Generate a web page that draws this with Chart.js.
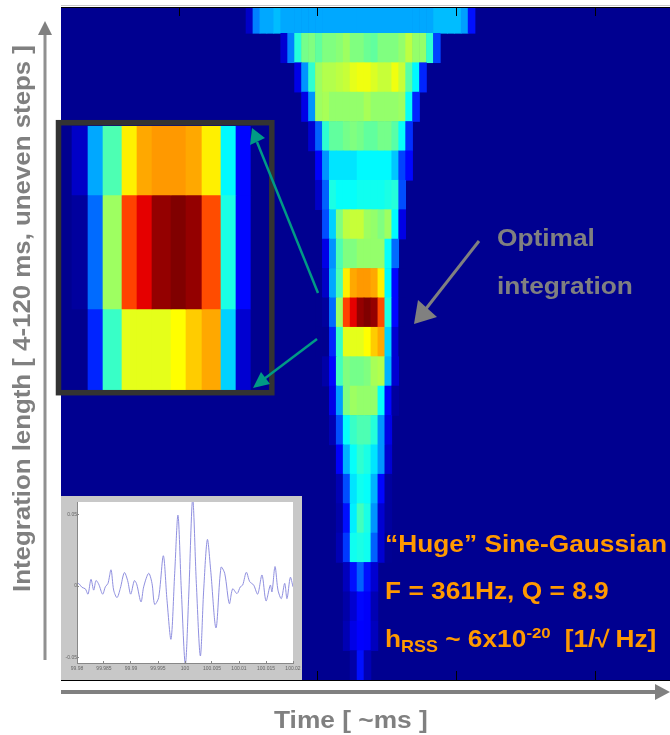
<!DOCTYPE html>
<html><head><meta charset="utf-8">
<script src="https://cdn.jsdelivr.net/npm/chart.js@4"></script>
<style>
html,body{margin:0;padding:0;background:#fff;width:670px;height:735px;overflow:hidden}
canvas{position:absolute;display:block}
#main{left:0;top:0;filter:blur(.3px)}
#thumb{left:61px;top:496px;filter:blur(.45px)}
#inset{left:61px;top:126px}
svg{position:absolute;left:0;top:0}
text{font-family:"Liberation Sans",Arial,sans-serif;font-weight:bold}
</style></head><body>
<canvas id="main" width="670" height="735"></canvas>
<canvas id="thumb" width="241" height="184"></canvas>
<canvas id="inset" width="208" height="264"></canvas>
<svg width="670" height="735" viewBox="0 0 670 735">
  <line x1="61" y1="5.5" x2="670" y2="5.5" stroke="#c8c8c8" stroke-width="1"/>
  <rect x="58.5" y="122.7" width="213.3" height="270" fill="none" stroke="#333" stroke-width="5.5"/>
  <g stroke="#009a85" stroke-width="2.5" fill="#009a85">
    <line x1="318" y1="293" x2="257" y2="142"/>
    <polygon points="252,128 250,145 265,138" stroke="none"/>
    <line x1="317" y1="339" x2="264" y2="379"/>
    <polygon points="253,388 261,372 270,384" stroke="none"/>
  </g>
  <g stroke="#808080" fill="#808080">
    <line x1="479" y1="241" x2="425" y2="310" stroke-width="3"/>
    <polygon points="414,324 418,300 437,317" stroke="none"/>
    <line x1="45" y1="660" x2="45" y2="32" stroke-width="3" stroke="#909090"/>
    <polygon points="45,21 38,35 52,35" stroke="none"/>
    <line x1="61" y1="692" x2="656" y2="692" stroke-width="4"/>
    <polygon points="670,692 655,684 655,700" stroke="none"/>
  </g>
  <g fill="#808080" font-size="23.5">
    <text transform="translate(497,246) scale(1.12,1)">Optimal</text>
    <text transform="translate(497,294) scale(1.12,1)">integration</text>
    <text transform="translate(274,728) scale(1.12,1)">Time [ ~ms ]</text>
    <text transform="translate(30,592) rotate(-90) scale(1.1,1)">Integration length [ 4-120 ms, uneven steps ]</text>
  </g>
  <g fill="#ff9900" font-size="23.5">
    <text transform="translate(385,552) scale(1.12,1)">“Huge” Sine-Gaussian</text>
    <text transform="translate(385,599) scale(1.12,1)">F = 361Hz, Q = 8.9</text>
    <text transform="translate(385,647) scale(1.12,1)">h<tspan font-size="16" dy="5">RSS</tspan><tspan dy="-5"> ~ 6x10</tspan><tspan font-size="15" dy="-9">-20</tspan><tspan dy="9" dx="6"> [1/√</tspan><tspan dx="5">Hz]</tspan></text>
  </g>
</svg>
<script>
// ---- heat map: one named list of colour levels per integration length ----
const insetTop    = [.016,.07,.29,.45,.64,.71,.725,.725,.71,.64,.37,.13,.016];
const insetMiddle = [.016,.03,.23,.53,.81,.90,.98,1,.98,.80,.40,.13,.016];
const insetBottom = [.016,.016,.16,.43,.60,.60,.60,.625,.675,.71,.33,.08,.016];

const heat00 = [.07,.25,.29,.29,.31,.29,.29,.29,.29,.29,.29,.29,.29,.29,.29,.29,.29,.29,.29,.29,.29,.29,.29,.29,.29,.29,.29,.31,.31,.31,.31,.28,.14];
const heat01 = [.08,.25,.41,.49,.50,.47,.50,.50,.51,.53,.50,.50,.48,.47,.50,.50,.50,.52,.56,.52,.52,.42,.19];
const heat02 = [.10,.27,.42,.53,.55,.55,.56,.57,.60,.61,.61,.59,.57,.57,.61,.57,.46,.37,.16];
const heat03 = [.10,.27,.53,.54,.52,.52,.52,.52,.52,.54,.52,.52,.52,.52,.53,.38,.16];
const heat04 = [.08,.22,.42,.47,.47,.49,.50,.49,.47,.47,.49,.49,.46,.38,.17];
const heat05 = [.12,.27,.35,.35,.35,.35,.37,.37,.37,.37,.37,.32,.19,.13];
const heat06 = [.07,.22,.40,.38,.38,.38,.39,.39,.39,.39,.40,.41,.20];
const heat07 = [.20,.33,.50,.56,.57,.57,.53,.52,.50,.53,.37,.10];
const heat08 = [.10,.27,.45,.50,.50,.52,.52,.52,.52,.38,.23];
const heat09 = insetTop;
const heat10 = insetMiddle;
const heat11 = insetBottom;
const heat12 = [.04,.13,.44,.50,.49,.49,.50,.54,.55,.30,.08];
const heat13 = [.10,.28,.50,.53,.52,.52,.52,.38,.13,.03];
const heat14 = [.05,.20,.38,.43,.45,.45,.41,.27,.10];
const heat15 = [.12,.30,.38,.42,.40,.35,.27,.08];
const heat16 = [.05,.20,.35,.39,.38,.30,.13,.03];
const heat17 = [.04,.14,.36,.44,.40,.27,.08,.03];
const heat18 = [.05,.18,.39,.40,.39,.22,.08,.02];
const heat19 = [.06,.14,.22,.14,.08];
const heat20 = [.04,.08,.13,.12,.05];
const heat21 = [.05,.10,.125,.12,.06];
const heat22 = [.04,.14,.05];
const heatRows = [heat00,heat01,heat02,heat03,heat04,heat05,heat06,heat07,heat08,heat09,heat10,heat11,heat12,heat13,heat14,heat15,heat16,heat17,heat18,heat19,heat20,heat21,heat22];
const heatFirstColumn = [0,5,7,8,9,10,10,11,11,10,10,10,11,12,12,13,13,13,13,14,14,14,15];
const columnOrigin = -10.37;
const timeTicks = [-20,0,20,40];

// ---- enlarged view: relative column widths and row heights ----
const insetColumnWidths = [11,16,15,19,15,15,19,15,16,19,15,15,18];
const insetRowHeights = [69,114,81];
const insetRows = [insetTop,insetMiddle,insetBottom];

// ---- waveform thumbnail ----
const waveTime = [99.98,99.98043,99.98093,99.98154,99.98204,99.98259,99.98309,99.98352,99.98401,99.98475,99.98525,99.98574,99.9863,99.98679,99.98741,99.98802,99.98877,99.98938,99.98994,99.99062,99.99105,99.99185,99.99235,99.99327,99.99389,99.99438,99.99512,99.99599,99.99667,99.99741,99.99809,99.9987,99.99932,100.00006,100.00068,100.00142,100.0021,100.00284,100.00346,100.00414,100.00475,100.00574,100.00667,100.00735,100.00821,100.00883,100.00963,100.01025,100.01068,100.01136,100.01198,100.01272,100.01346,100.01426,100.015,100.0158,100.01611,100.01667,100.01722,100.01784,100.01846,100.01889,100.01951,100.02];
const waveValue = [.0023,.0014,-.0009,-.0019,-.0056,.0047,-.0028,.0038,.0014,-.0056,-.0005,.0019,.0113,-.0028,-.008,-.0016,.0094,.0038,-.0056,.0038,.0014,-.011,-.0005,.0089,.0019,-.0127,-.008,.0211,-.0099,-.0369,.0089,.0493,-.0028,-.0545,-.0075,.0606,.0019,-.0486,-.0028,.0324,.0113,-.0291,.0131,.0089,-.0122,-.0019,-.0052,-.0005,.0007,.0096,.0031,.0007,-.0056,.0077,-.0103,.0007,-.004,.0136,-.0028,-.0087,.0019,-.0087,.0061,-.0005];
const waveTickTimes = [99.98,99.985,99.99,99.995,100,100.005,100.01,100.015,100.02];
const waveTickLabels = ['99.98','99.985','99.99','99.995','100','100.005','100.01','100.015','100.02'];
const waveLevelTicks = [-0.05,0,0.05];
const waveLevelLabels = ['-0.05','0','0.05'];

// ---- helpers ----
function jet(v){
  const c = t => Math.round(255*Math.max(0,Math.min(1,1.5-Math.abs(4*v-t))));
  return `rgb(${c(3)},${c(2)},${c(1)})`;
}
const areaFill = color => ({id:'areaFill',beforeDatasetsDraw(ch){
  const a=ch.chartArea,x=ch.ctx;x.save();x.fillStyle=color;x.fillRect(a.left,a.top,a.right-a.left,a.bottom-a.top);x.restore();
}});
const common = {responsive:false,animation:false,devicePixelRatio:1,
  plugins:{legend:{display:false},tooltip:{enabled:false},title:{display:false}}};

// ---- main heat map ----
const cells = [];
const cellColors = [];
heatRows.forEach((row,r)=>row.forEach((v,i)=>{
  const k = heatFirstColumn[r]+i;
  cells.push({x:[k+columnOrigin,k+1+columnOrigin],y:r});
  cellColors.push(jet(v));
}));
const tickAxis = position => ({
  type:'linear',position,min:-37.03,max:50.72,
  afterBuildTicks:s=>{s.ticks=timeTicks.map(value=>({value}));},
  afterFit:s=>{s.height=0;},
  ticks:{display:false,autoSkip:false},
  grid:{drawOnChartArea:false,drawTicks:true,tickLength:-9,color:'#000',lineWidth:1,z:2},
  border:{display:true,color:'#000',width:1,z:2}
});
new Chart(document.getElementById('main'),{
  type:'bar',
  data:{datasets:[{data:cells,backgroundColor:cellColors,borderWidth:0,barPercentage:1,categoryPercentage:1}]},
  options:{...common,indexAxis:'y',
    layout:{padding:{left:61,right:0,top:7,bottom:55}},
    scales:{
      x:tickAxis('bottom'),
      x2:tickAxis('top'),
      y:{type:'linear',reverse:true,offset:false,min:-0.395,max:22.5,display:false}
    }},
  plugins:[areaFill(jet(.016))]
});

// ---- enlarged view ----
const insetEdges=[0];insetColumnWidths.forEach(w=>insetEdges.push(insetEdges[insetEdges.length-1]+w));
let rowTop=0;
const insetDatasets = insetRows.map((row,r)=>{
  const h=insetRowHeights[r],c=rowTop+h/2;rowTop+=h;
  return {data:row.map((v,i)=>({x:[insetEdges[i],insetEdges[i+1]],y:c})),
    backgroundColor:row.map(jet),borderWidth:0,barThickness:h,grouped:false};
});
new Chart(document.getElementById('inset'),{
  type:'bar',data:{datasets:insetDatasets},
  options:{...common,indexAxis:'y',layout:{padding:0},
    scales:{
      x:{type:'linear',min:0,max:208,display:false},
      y:{type:'linear',reverse:true,offset:false,min:0,max:264,display:false}
    }}
});

// ---- waveform ----
new Chart(document.getElementById('thumb'),{
  type:'line',
  data:{datasets:[{data:waveTime.map((x,i)=>({x,y:waveValue[i]})),borderColor:'#9090e0',borderWidth:1,pointRadius:0,tension:.3,fill:false}]},
  options:{...common,
    layout:{padding:{left:0,right:9,top:6,bottom:0}},
    scales:{
      x:{type:'linear',min:99.98,max:100.02,
        afterBuildTicks:s=>{s.ticks=waveTickTimes.map(value=>({value}));},
        afterFit:s=>{s.height=17;s.paddingLeft=0;s.paddingRight=0;},
        ticks:{font:{size:5,family:'Liberation Sans'},color:'#666',maxRotation:0,autoSkip:false,padding:5,
          callback:(v,i)=>waveTickLabels[i]},
        grid:{drawOnChartArea:false,tickLength:-2,color:'#888',z:2},
        border:{color:'#888',width:1,z:2}},
      y:{type:'linear',min:-0.0535,max:0.0585,
        afterBuildTicks:s=>{s.ticks=waveLevelTicks.map(value=>({value}));},
        afterFit:s=>{s.width=16;s.paddingTop=0;s.paddingBottom=0;},
        ticks:{font:{size:5,family:'Liberation Sans'},color:'#666',padding:2,autoSkip:false,
          callback:(v,i)=>waveLevelLabels[i]},
        grid:{drawOnChartArea:false,tickLength:-2,color:'#888',z:2},
        border:{color:'#888',width:1,z:2}}
    }},
  plugins:[
    areaFill('#fff'),
    {id:'paper',beforeDraw(ch){const x=ch.ctx;x.save();x.fillStyle='#c8c8c8';x.fillRect(0,0,ch.width,ch.height);x.restore();}}
  ]
});
</script>
</body></html>
